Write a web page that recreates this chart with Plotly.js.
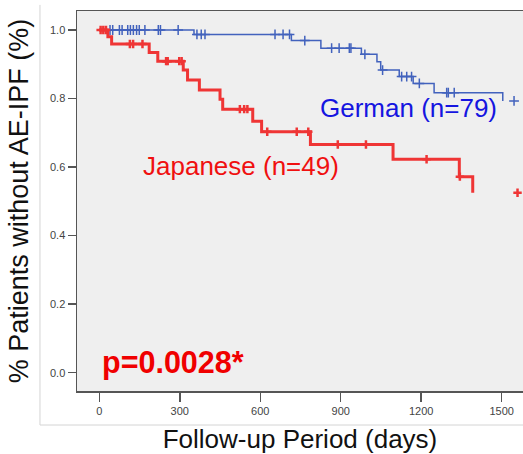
<!DOCTYPE html>
<html>
<head>
<meta charset="utf-8">
<script src="https://cdn.plot.ly/plotly-3.0.1.min.js"></script>
<style>html,body{margin:0;padding:0;background:#fff;}#chart{width:523px;height:454px;}</style>
</head>
<body>
<div id="chart"></div>
<script>
// Japanese group (n=49): event days and survival after each event
const jpEventDays = [32, 46, 186, 218, 313, 329, 373, 450, 460, 572, 605, 787, 1095, 1342, 1392];
const jpSurv      = [0.980, 0.959, 0.934, 0.909, 0.883, 0.854, 0.825, 0.798, 0.769, 0.734, 0.703, 0.666, 0.623, 0.572, 0.525];
const jpCensorDays = [5, 15, 25, 114, 126, 161, 249, 255, 298, 307, 524, 540, 552, 626, 736, 779, 889, 994, 1220, 1344, 1559];

// German group (n=79)
const deEventDays = [353, 716, 826, 977, 1035, 1049, 1118, 1170, 1248, 1504];
const deSurv      = [0.987, 0.969, 0.947, 0.929, 0.907, 0.883, 0.864, 0.844, 0.817, 0.793];
const deCensorDays = [40, 50, 75, 85, 106, 116, 127, 139, 149, 170, 220, 228, 294,
  364, 380, 394, 655, 685, 709, 766, 866, 894, 932, 938, 990, 1056, 1127, 1146, 1164, 1193,
  1295, 1301, 1323, 1546];

const xTicks = [0, 300, 600, 900, 1200, 1500];
const yTicks = [0.0, 0.2, 0.4, 0.6, 0.8, 1.0];

function stepXY(days, surv) {
  return { x: [0].concat(days), y: [1.0].concat(surv) };
}
function survAt(days, surv, t) {
  let s = 1.0;
  for (let i = 0; i < days.length; i++) { if (days[i] <= t) s = surv[i]; }
  return s;
}

const jpStep = stepXY(jpEventDays, jpSurv);
const deStep = stepXY(deEventDays, deSurv);
const jpC = jpCensorDays.map(t => survAt(jpEventDays, jpSurv, t));
const deC = deCensorDays.map(t => survAt(deEventDays, deSurv, t));

const blue = '#4262bd';
const red = '#ef3535';

const traces = [
  { x: deStep.x, y: deStep.y, mode: 'lines', line: { shape: 'hv', color: blue, width: 1.5 }, hoverinfo: 'skip' },
  { x: deCensorDays, y: deC, mode: 'markers', marker: { symbol: 'cross-thin-open', size: 7, color: blue, line: { color: blue, width: 1.5 } }, hoverinfo: 'skip' },
  { x: jpStep.x, y: jpStep.y, mode: 'lines', line: { shape: 'hv', color: red, width: 3 }, hoverinfo: 'skip' },
  { x: jpCensorDays, y: jpC, mode: 'markers', marker: { symbol: 'cross-thin-open', size: 6, color: red, line: { color: red, width: 2.5 } }, hoverinfo: 'skip' }
];

const layout = {
  width: 523, height: 454,
  margin: { l: 77, r: 0, t: 11, b: 63 },
  paper_bgcolor: '#ffffff',
  plot_bgcolor: '#efefef',
  showlegend: false,
  font: { family: 'Liberation Sans, Arial, sans-serif', color: '#333' },
  xaxis: {
    range: [-83.1, 1579.4], tickvals: xTicks, ticktext: xTicks.map(String),
    showgrid: false, zeroline: false, showline: true, linecolor: '#555', linewidth: 1.5,
    mirror: true, ticks: 'outside', ticklen: 9, tickwidth: 1.5, tickcolor: '#555',
    tickfont: { size: 11, color: '#444' },
    title: { text: 'Follow-up Period (days)', font: { size: 26, color: '#111' }, standoff: 21 }
  },
  yaxis: {
    range: [-0.0534, 1.0554], tickvals: yTicks, ticktext: yTicks.map(v => v.toFixed(1)),
    showgrid: false, zeroline: false, showline: true, linecolor: '#555', linewidth: 1.5,
    ticks: 'outside', ticklen: 8, tickwidth: 1.5, tickcolor: '#555',
    tickfont: { size: 11, color: '#444' },
    title: { text: '% Patients without AE-IPF (%)', font: { size: 27, color: '#111' }, standoff: 13 }
  },
  annotations: [
    { x: 1151, y: 0.772, xref: 'x', yref: 'y', text: 'German (n=79)', showarrow: false,
      font: { size: 26, color: '#1515e0' }, xanchor: 'center', yanchor: 'middle' },
    { x: 528, y: 0.603, xref: 'x', yref: 'y', text: 'Japanese (n=49)', showarrow: false,
      font: { size: 26, color: '#f01010' }, xanchor: 'center', yanchor: 'middle' },
    { x: 276, y: 0.031, xref: 'x', yref: 'y', text: '<b>p=0.0028*</b>', showarrow: false,
      font: { size: 30.5, color: '#f00000' }, xanchor: 'center', yanchor: 'middle' }
  ],
  shapes: [
    { type: 'line', xref: 'paper', yref: 'paper', x0: -0.083, x1: -0.083, y0: 1.016, y1: -0.0895, line: { color: '#d4d4d4', width: 1 } },
    { type: 'line', xref: 'paper', yref: 'paper', x0: -0.083, x1: 1.0, y0: -0.0895, y1: -0.0895, line: { color: '#d4d4d4', width: 1 } }
  ]
};

Plotly.newPlot('chart', traces, layout, { displayModeBar: false, staticPlot: true });
</script>
</body>
</html>
